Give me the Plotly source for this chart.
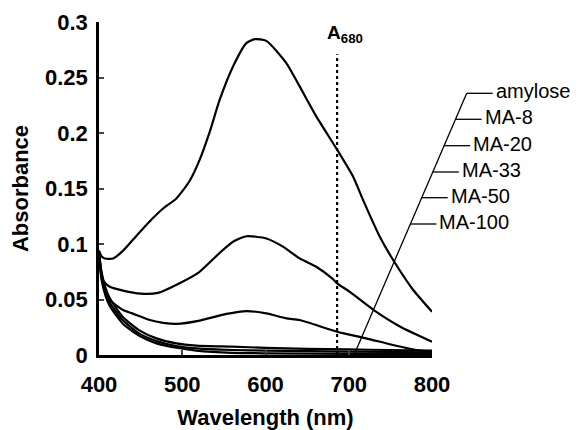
import plotly.graph_objects as go

# ---- data ----
amylose_x = [400, 403, 407, 417, 429, 441, 463, 477, 493, 509, 521, 533, 545, 561, 577, 587, 601, 625, 641, 661, 686, 705, 717, 737, 753, 777, 800]
amylose_y = [0.094, 0.089, 0.087, 0.087, 0.094, 0.104, 0.122, 0.132, 0.141, 0.157, 0.176, 0.201, 0.230, 0.260, 0.281, 0.2845, 0.283, 0.263, 0.242, 0.215, 0.185, 0.161, 0.140, 0.107, 0.086, 0.059, 0.039]

ma8_x = [400, 402, 405, 413, 429, 450, 471, 495, 520, 545, 561, 577, 601, 621, 641, 661, 680, 686, 701, 730, 762, 800]
ma8_y = [0.094, 0.078, 0.067, 0.0615, 0.058, 0.0553, 0.056, 0.064, 0.0745, 0.092, 0.102, 0.107, 0.105, 0.0976, 0.087, 0.0795, 0.069, 0.0646, 0.057, 0.0405, 0.0255, 0.012]

ma20_x = [400, 403, 407, 413, 429, 440, 461, 477, 493, 521, 553, 577, 601, 625, 641, 686, 721, 753, 781, 800]
ma20_y = [0.093, 0.072, 0.058, 0.0495, 0.0405, 0.0375, 0.0315, 0.029, 0.028, 0.031, 0.037, 0.0396, 0.0375, 0.033, 0.0315, 0.021, 0.015, 0.009, 0.0045, 0.003]

ma33_x = [400, 403, 408, 413, 429, 449, 469, 493, 517, 560, 600, 650, 700, 750, 800]
ma33_y = [0.092, 0.075, 0.060, 0.051, 0.034, 0.022, 0.015, 0.0105, 0.0085, 0.0075, 0.0065, 0.0055, 0.005, 0.0045, 0.004]

ma50_x = [400, 403, 408, 413, 429, 449, 469, 493, 517, 560, 600, 700, 800]
ma50_y = [0.090, 0.071, 0.056, 0.047, 0.031, 0.019, 0.0125, 0.008, 0.006, 0.0045, 0.004, 0.003, 0.0025]

ma100_x = [400, 403, 408, 413, 429, 449, 469, 493, 517, 560, 600, 700, 800]
ma100_y = [0.088, 0.068, 0.053, 0.044, 0.028, 0.017, 0.0105, 0.0065, 0.004, 0.002, 0.0015, 0.001, 0.001]

series_names = ["amylose", "MA-8", "MA-20", "MA-33", "MA-50", "MA-100"]
series_x = [amylose_x, ma8_x, ma20_x, ma33_x, ma50_x, ma100_x]
series_y = [amylose_y, ma8_y, ma20_y, ma33_y, ma50_y, ma100_y]

x_ticks = [400, 500, 600, 700, 800]
y_ticks = [0, 0.05, 0.1, 0.15, 0.2, 0.25, 0.3]
marker_wavelength = 686  # position of the A680 dotted line as drawn
marker_top = 0.271

# ---- figure ----
fig = go.Figure()
for name, xs, ys in zip(series_names, series_x, series_y):
    fig.add_trace(go.Scatter(x=xs, y=ys, mode="lines", name=name,
                             line=dict(color="black", width=2.2, shape="spline", smoothing=0.6),
                             showlegend=False))

# dotted A680 marker
fig.add_trace(go.Scatter(x=[marker_wavelength, marker_wavelength], y=[0, marker_top], mode="lines",
                         line=dict(color="black", width=2.2, dash="dot"), showlegend=False))

# plot area in page pixels (page body has an 8px margin)
OFF = 8
PL, PR, PT, PB = 99, 432, 22, 355
W = PR - PL
H = PB - PT
FIG_W, FIG_H = 579 - OFF, 430 - OFF

def px(x):
    return (x - PL) / W

def py(y):
    return (PB - y) / H

fig.add_annotation(x=marker_wavelength, y=0.289, xref="x", yref="y",
                   text="<b>A<sub>680</sub></b>", showarrow=False,
                   font=dict(family="Liberation Sans, Arial", size=19, color="black"),
                   xanchor="left", xshift=-12)

# label callouts: slanted leader and horizontal ticks
label_rows = [93.3, 119.3, 145.7, 172, 197.7, 224]
slope = (466.7 - 354) / (355 - 93.3)
shapes = [dict(type="line", xref="paper", yref="paper",
               x0=px(354), y0=py(355), x1=px(466.7), y1=py(93.3),
               line=dict(color="black", width=1.3))]
for name, yy in zip(series_names, label_rows):
    xs = 354 + (355 - yy) * slope
    shapes.append(dict(type="line", xref="paper", yref="paper",
                       x0=px(xs), y0=py(yy), x1=px(xs + 26), y1=py(yy),
                       line=dict(color="black", width=1.3)))
    fig.add_annotation(x=px(xs + 27), y=py(yy - 2), xref="paper", yref="paper",
                       text=name, showarrow=False, xanchor="left", yanchor="middle",
                       font=dict(family="Liberation Sans, Arial", size=20, color="black"))

fig.update_layout(
    width=FIG_W, height=FIG_H,
    margin=dict(l=PL - OFF, r=FIG_W - (PR - OFF), t=PT - OFF, b=FIG_H - (PB - OFF), autoexpand=False),
    paper_bgcolor="white", plot_bgcolor="white",
    shapes=shapes,
    font=dict(family="Liberation Sans, Arial", color="black"),
)
fig.update_xaxes(range=[400, 800], tickvals=x_ticks, ticks="inside", ticklen=5, tickwidth=2,
                 showline=True, linewidth=2.5, linecolor="black", showgrid=False, zeroline=False,
                 automargin=False,
                 tickfont=dict(size=22, family="Liberation Sans, Arial", weight="bold"),
                 ticklabelstandoff=8,
                 title=dict(text="<b>Wavelength (nm)</b>", font=dict(size=22), standoff=21))
fig.update_yaxes(range=[0, 0.3], tickvals=y_ticks, ticks="inside", ticklen=5, tickwidth=2,
                 showline=True, linewidth=2.5, linecolor="black", showgrid=False, zeroline=False,
                 automargin=False,
                 tickfont=dict(size=22, family="Liberation Sans, Arial", weight="bold"),
                 ticklabelstandoff=4,
                 title=dict(text="<b>Absorbance</b>", font=dict(size=22), standoff=13))

fig.write_html("out.html")
